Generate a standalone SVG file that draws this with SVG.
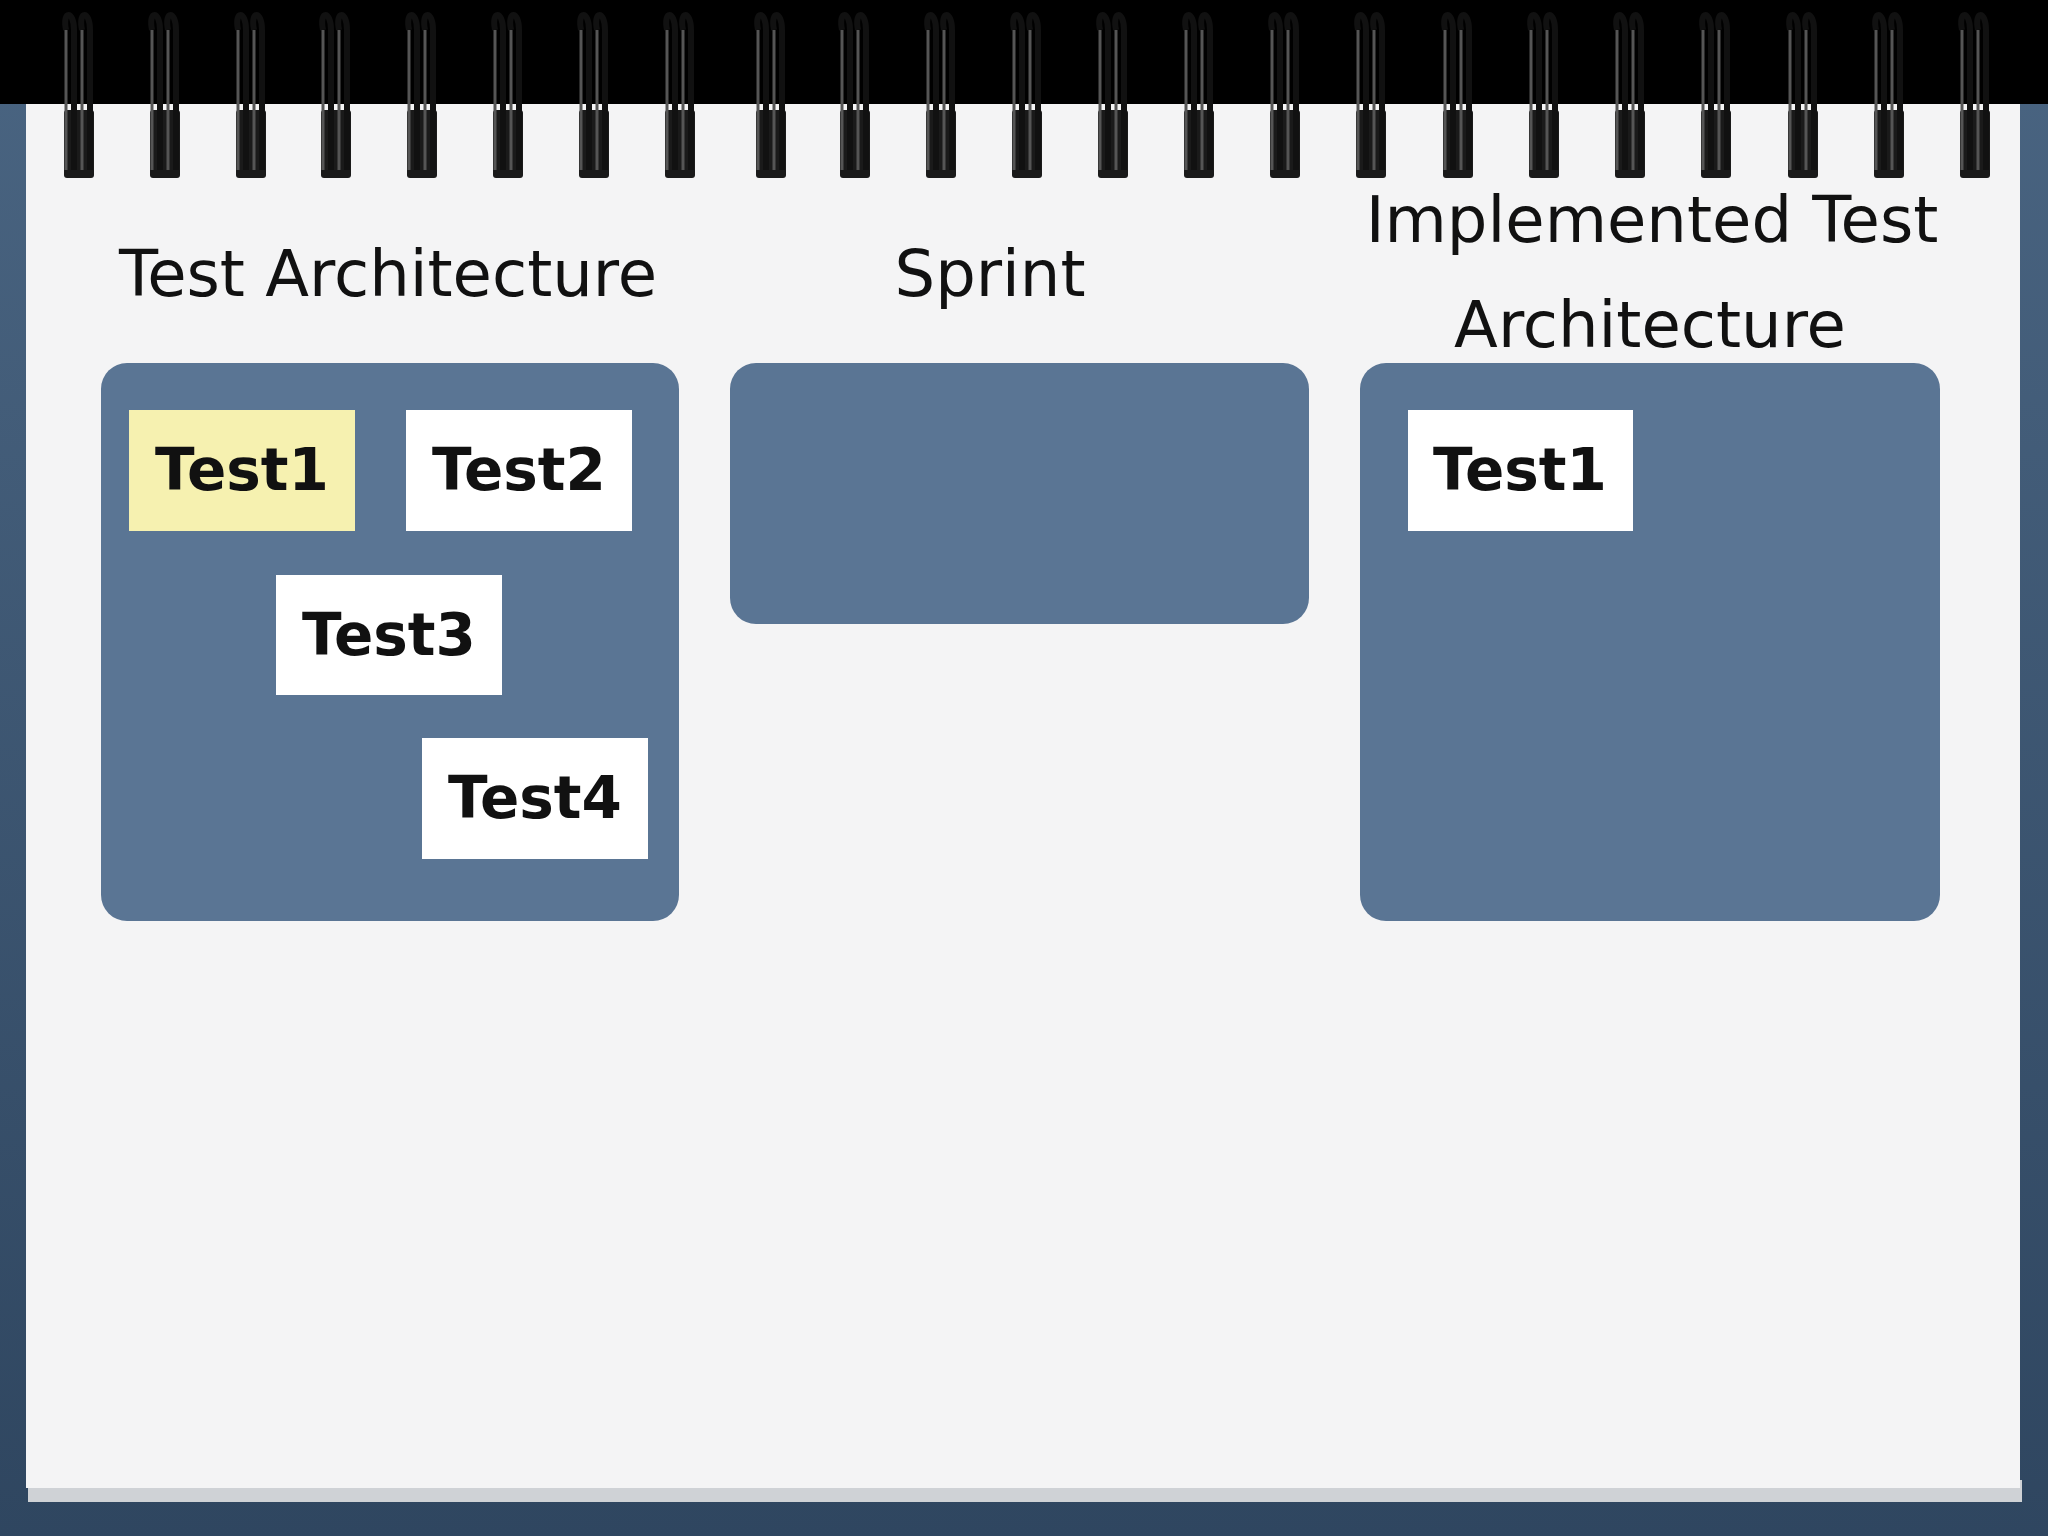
<svg xmlns="http://www.w3.org/2000/svg" width="2048" height="1536" viewBox="0 0 2048 1536">
<defs>
<linearGradient id="bg" x1="0" y1="0" x2="0" y2="1"><stop offset="0" stop-color="#4a6582"/><stop offset="1" stop-color="#2f4660"/></linearGradient>
<g id="ring">
<rect x="-12" y="110" width="30" height="68" rx="3" fill="#1a1a1a"/>
<path d="M-10 30 C-14 10 -2 10 -2 30 L-2 170 M6 30 C2 10 14 10 14 30 L14 170" fill="none" stroke="#111" stroke-width="6"/>
<path d="M-10 30 L-10 170 M6 30 L6 170" fill="none" stroke="#555" stroke-width="3"/>
</g>
</defs>
<style>
.panel{fill:#5a7594}
.card{fill:#ffffff}
.title{font-family:"DejaVu Sans",sans-serif;font-size:64px;fill:#111;text-anchor:middle}
.lbl{font-family:"DejaVu Sans",sans-serif;font-size:58px;fill:#111;text-anchor:middle;font-weight:bold}
</style>
<rect width="2048" height="1536" fill="url(#bg)"/>
<rect width="2048" height="104" fill="#000"/>
<rect x="28" y="1480" width="1994" height="22" fill="#cfd2d6"/>
<rect x="26" y="104" width="1994" height="1384" fill="#f4f4f5"/>
<g id="rings">
<use href="#ring" x="76"/><use href="#ring" x="162"/><use href="#ring" x="248"/><use href="#ring" x="333"/><use href="#ring" x="419"/><use href="#ring" x="505"/><use href="#ring" x="591"/><use href="#ring" x="677"/><use href="#ring" x="768"/><use href="#ring" x="852"/><use href="#ring" x="938"/><use href="#ring" x="1024"/><use href="#ring" x="1110"/><use href="#ring" x="1196"/><use href="#ring" x="1282"/><use href="#ring" x="1368"/><use href="#ring" x="1455"/><use href="#ring" x="1541"/><use href="#ring" x="1627"/><use href="#ring" x="1713"/><use href="#ring" x="1800"/><use href="#ring" x="1886"/><use href="#ring" x="1972"/>
</g>
<text class="title" x="388" y="296">Test Architecture</text>
<text class="title" x="990" y="296">Sprint</text>
<text class="title" x="1652" y="242">Implemented Test</text>
<text class="title" x="1650" y="347">Architecture</text>
<g id="panel-test-architecture"><rect class="panel" x="101" y="363" width="578" height="558" rx="26"/></g>
<g id="panel-sprint"><rect class="panel" x="730" y="363" width="579" height="261" rx="26"/></g>
<g id="panel-implemented"><rect class="panel" x="1360" y="363" width="580" height="558" rx="26"/></g>
<g id="test1"><rect x="129" y="410" width="226" height="121" fill="#f6f1b0"/><text class="lbl" x="242" y="490">Test1</text></g>
<g id="test2"><rect class="card" x="406" y="410" width="226" height="121"/><text class="lbl" x="519" y="490">Test2</text></g>
<g id="test3"><rect class="card" x="276" y="575" width="226" height="120"/><text class="lbl" x="389" y="655">Test3</text></g>
<g id="test4"><rect class="card" x="422" y="738" width="226" height="121"/><text class="lbl" x="535" y="818">Test4</text></g>
<g id="impl-test1"><rect class="card" x="1408" y="410" width="225" height="121"/><text class="lbl" x="1520" y="490">Test1</text></g>
<g id="connectors"/>
</svg>
